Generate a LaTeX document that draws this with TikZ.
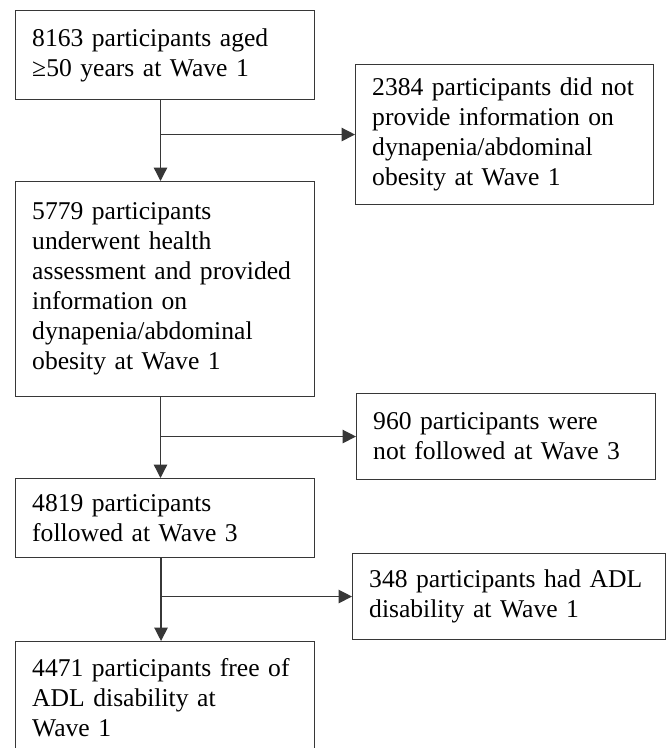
\documentclass[tikz,border=0pt]{standalone}
\usepackage{fontspec}
\setmainfont{Liberation Serif}
\usetikzlibrary{arrows.meta}
\begin{document}
\begin{tikzpicture}[x=0.75pt,y=-0.75pt,
  flowbox/.style={shape=rectangle,draw=flowgray,line width=0.8pt,anchor=north west,align=left,
    inner xsep=12.5pt,inner ysep=2pt,font=\fontsize{19.2pt}{22.5pt}\selectfont},
  flowline/.style={draw=flowgray,line width=1pt,-{Triangle[length=10pt,width=10pt]}}]
\definecolor{flowgray}{RGB}{55,55,55}
\useasboundingbox (0,0) rectangle (668,748);
\node[flowbox,text width=199.25pt,minimum height=66.75pt] (all) at (15,10) {8163 participants aged\\≥50 years at Wave 1};
\node[flowbox,text width=198.5pt,minimum height=105pt] (noinfo) at (355,64) {2384 participants did not\\provide information on\\dynapenia/abdominal\\obesity at Wave 1};
\node[flowbox,text width=199.25pt,minimum height=161.25pt] (assessed) at (15,181) {5779 participants\\underwent health\\assessment and provided\\information on\\dynapenia/abdominal\\obesity at Wave 1};
\node[flowbox,text width=199.25pt,minimum height=64.5pt] (lost) at (356,393) {960 participants were\\not followed at Wave 3};
\node[flowbox,text width=199.25pt,minimum height=59.25pt] (followed) at (15,478) {4819 participants\\followed at Wave 3};
\node[flowbox,text width=209.75pt,minimum height=64.5pt] (adl) at (352,553) {348 participants had ADL\\disability at Wave 1};
\node[flowbox,text width=199.25pt,minimum height=84pt] (final) at (15,641) {4471 participants free of\\ADL disability at\\Wave 1};

\draw[flowline] ([xshift=-3.4pt]all.south) to ([xshift=-3.4pt]assessed.north);
\draw[flowline] ([xshift=-3.4pt]all.south) |- (noinfo.west);
\draw[flowline] ([xshift=-3.4pt]assessed.south) to ([xshift=-3.4pt]followed.north);
\draw[flowline] ([xshift=-3.4pt]assessed.south) |- (lost.west);
\draw[flowline] ([xshift=-3pt]followed.south) to ([xshift=-3pt]final.north);
\draw[flowline] ([xshift=-3pt]followed.south) |- (adl.west);
\end{tikzpicture}
\end{document}
